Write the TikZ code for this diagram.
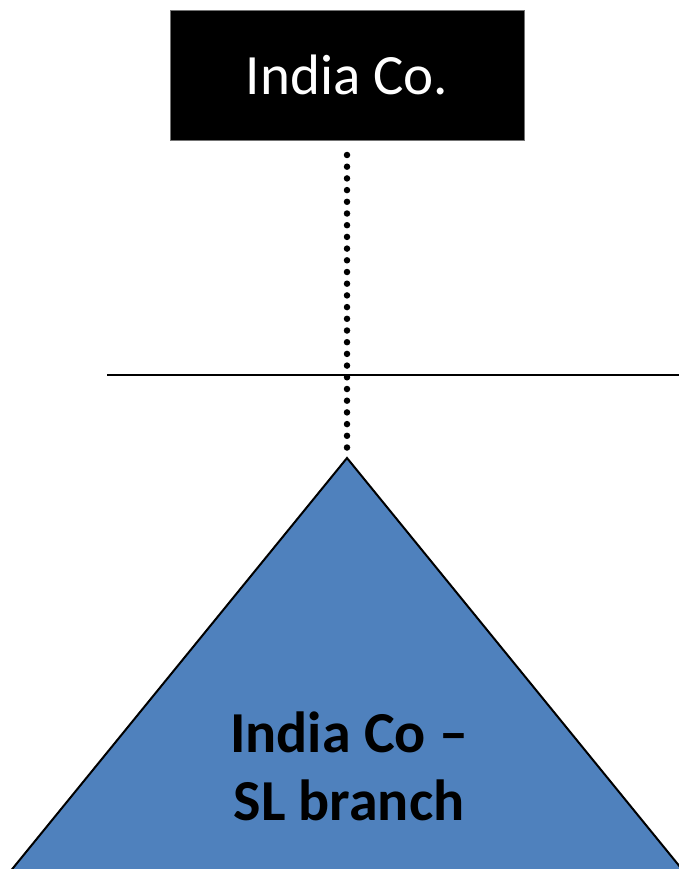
\documentclass[tikz,border=0pt]{standalone}
\usepackage{fontspec}
\setmainfont{Carlito}
\usepackage{xcolor}
\usepackage{tikz}
\definecolor{branchblue}{HTML}{4F81BD}

\begin{document}
\begin{tikzpicture}[x=1pt,y=-1pt,
  company/.style={fill=black,draw=black!55,line width=0.8pt,minimum width=354pt,minimum height=130pt,
    text=white,font=\fontsize{57}{68}\selectfont},
  dotline/.style={line width=6.5pt,line cap=round,dash pattern=on 0pt off 11.7pt},
  branchlabel/.style={align=center,font=\bfseries\fontsize{58}{68}\selectfont}]
  \useasboundingbox (0,0) rectangle (679,869);
  \clip (0,0) rectangle (679,869);
  % parent company
  \node[company] (india) at (347,75) {India Co.};
  % branch
  \coordinate (apex) at (347,458);
  \fill[branchblue] (apex) -- (-13,900) -- (707,900) -- cycle;
  \draw[line width=2pt] (-13,900) -- (apex) -- (707,900);
  \node[branchlabel,anchor=base] (branch) at (349,820) {India Co --\\SL branch};
  % border line
  \coordinate (bl) at (107,375);
  \coordinate (br) at (679,375);
  \draw[line width=2.5pt] (bl) -- (br);
  \coordinate (top) at (347,155);
  \draw[dotline] (top) -- (apex);
\end{tikzpicture}
\end{document}
